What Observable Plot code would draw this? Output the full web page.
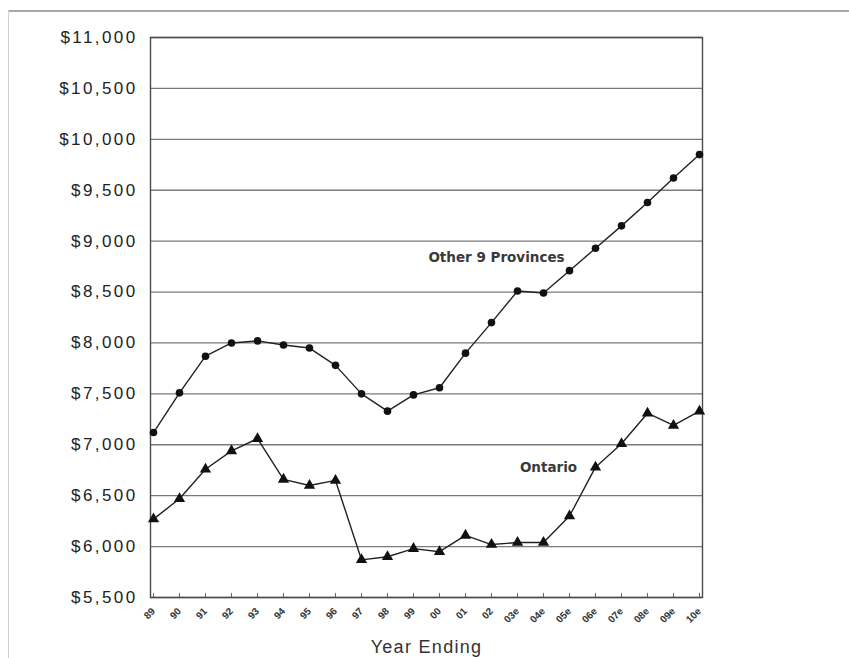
<!DOCTYPE html>
<html>
<head>
<meta charset="utf-8">
<script src="https://cdn.jsdelivr.net/npm/d3@7"></script>
<script src="https://cdn.jsdelivr.net/npm/@observablehq/plot@0.6"></script>
<style>
  html, body { margin: 0; padding: 0; background: #fff; }
  #wrap { position: relative; width: 849px; height: 658px; overflow: hidden; }
  #wrap .topline { position: absolute; left: 8px; top: 10px; right: 0; border-top: 2px solid #a8a8a8; }
  #wrap .leftline { position: absolute; left: 8px; top: 10px; bottom: 0; border-left: 1px solid #cfcfcf; }
  #chart svg g[aria-label="y-axis tick label"] text { letter-spacing: 2.4px; }
  #chart svg .title-text text { letter-spacing: 1.3px; }
</style>
</head>
<body>
<div id="wrap">
  <div class="topline"></div>
  <div class="leftline"></div>
  <div id="chart"></div>
</div>
<script>
// Year-ending categories (x axis tick labels)
const years = ["89","90","91","92","93","94","95","96","97","98","99","00","01","02","03e","04e","05e","06e","07e","08e","09e","10e"];

// Series values
const otherProvinces = [7120,7510,7870,8000,8020,7980,7950,7780,7500,7330,7490,7560,7900,8200,8510,8490,8710,8930,9150,9380,9620,9850];
const ontario = [6270,6470,6760,6940,7060,6660,6600,6650,5870,5900,5980,5950,6110,6020,6040,6040,6300,6780,7010,7310,7190,7330];

// Y axis ticks
const yTicks = [5500,6000,6500,7000,7500,8000,8500,9000,9500,10000,10500,11000];

// Series labels, anchored in data coordinates
const seriesNames = ["Other 9 Provinces","Ontario"];
const seriesLabelYear = ["02","04e"];
const seriesLabelValue = [8833,6775];

const otherData = years.map((y, i) => ({year: y, value: otherProvinces[i]}));
const ontarioData = years.map((y, i) => ({year: y, value: ontario[i]}));
const labelData = seriesNames.map((n, i) => ({name: n, year: seriesLabelYear[i], value: seriesLabelValue[i]}));

const fmt = d3.format(",");

const chart = Plot.plot({
  width: 849,
  height: 658,
  marginLeft: 150,
  marginRight: 147,
  marginTop: 37,
  marginBottom: 61,
  style: {fontFamily: "'Liberation Sans', Arial, sans-serif", background: "transparent", color: "#222"},
  x: {type: "point", domain: years, padding: 0, label: null},
  y: {domain: [5500, 11000], label: null},
  marks: [
    Plot.ruleY(yTicks, {stroke: "#7a7a7a", strokeWidth: 1.3}),
    Plot.ruleX(years, {x: d => d, y1: 5500, y2: 5540, stroke: "#666", strokeWidth: 1}),
    Plot.frame({stroke: "#4a4a4a", strokeWidth: 1.4}),
    Plot.axisY(yTicks, {tickSize: 0, tickPadding: 13, fontSize: 17, tickFormat: d => "$" + fmt(d), fill: "#222"}),
    Plot.axisX({tickSize: 0, tickRotate: -45, fontSize: 10, tickPadding: 12, label: null, fill: "#333", fontWeight: "bold"}),
    Plot.text(["Year Ending"], {frameAnchor: "bottom", dy: 50, lineAnchor: "middle", fontSize: 18, fill: "#333"}),
    Plot.line(otherData, {x: "year", y: "value", stroke: "#222", strokeWidth: 1.4}),
    Plot.dot(otherData, {x: "year", y: "value", r: 3.8, fill: "#111", stroke: "none", symbol: "circle"}),
    Plot.line(ontarioData, {x: "year", y: "value", stroke: "#222", strokeWidth: 1.4}),
    Plot.dot(ontarioData, {x: "year", y: "value", r: 4.2, fill: "#111", stroke: "none", symbol: "triangle"}),
    Plot.text(labelData, {x: "year", y: "value", text: "name", dx: 5, fontSize: 13.5, fontWeight: "bold", fontFamily: "'DejaVu Sans', sans-serif", fill: "#3a3a3a", lineAnchor: "middle"})
  ]
});

document.getElementById("chart").appendChild(chart);
d3.select(chart).selectAll("g[aria-label='text']").each(function() {
  const t = d3.select(this).selectAll("text");
  if (t.size() === 1 && t.text() === "Year Ending") d3.select(this).classed("title-text", true);
});
</script>
</body>
</html>
